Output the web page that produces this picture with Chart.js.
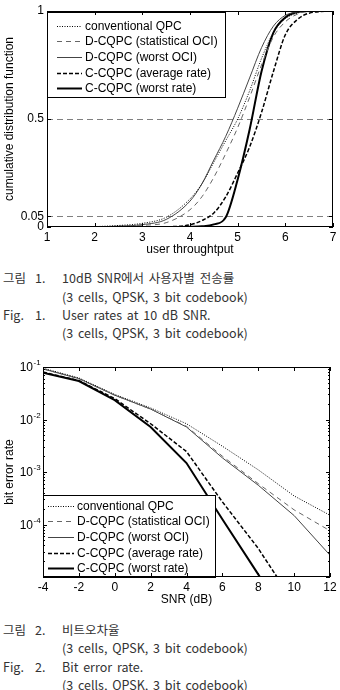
<!DOCTYPE html>
<html>
<head>
<meta charset="utf-8">
<script src="https://cdn.jsdelivr.net/npm/chart.js@4/dist/chart.umd.min.js"></script>
<style>
  body { margin: 0; width: 340px; height: 690px; background: #fff; position: relative; overflow: hidden; }
  canvas { position: absolute; left: 0; }
  .cap { position: absolute; font-family: "Noto Sans CJK KR", "Liberation Sans", sans-serif; font-size: 12.5px;
         line-height: 18px; color: #333; white-space: nowrap; word-spacing: 2px; }
</style>
</head>
<body>
<canvas id="cdf" width="340" height="260" style="top:0"></canvas>
<canvas id="ber" width="340" height="255" style="top:355px"></canvas>

<div class="cap" style="left:3px;top:269px">그림</div><div class="cap" style="left:35px;top:269px">1.</div>
<div class="cap" style="left:62px;top:269px">10dB SNR에서 사용자별 전송률</div>
<div class="cap" style="left:62px;top:288px">(3 cells, QPSK, 3 bit codebook)</div>
<div class="cap" style="left:3px;top:306px">Fig.</div><div class="cap" style="left:35px;top:306px">1.</div>
<div class="cap" style="left:62px;top:306px">User rates at 10 dB SNR.</div>
<div class="cap" style="left:62px;top:324px">(3 cells, QPSK, 3 bit codebook)</div>

<div class="cap" style="left:3px;top:621px">그림</div><div class="cap" style="left:35px;top:621px">2.</div>
<div class="cap" style="left:62px;top:621px">비트오차율</div>
<div class="cap" style="left:62px;top:639px">(3 cells, QPSK, 3 bit codebook)</div>
<div class="cap" style="left:3px;top:658px">Fig.</div><div class="cap" style="left:35px;top:658px">2.</div>
<div class="cap" style="left:62px;top:658px">Bit error rate.</div>
<div class="cap" style="left:62px;top:676px">(3 cells, QPSK, 3 bit codebook)</div>

<script>
// ---- data: figure 1, CDF of user throughput ----
var seriesNames = ["conventional QPC", "D-CQPC (statistical OCI)", "D-CQPC (worst OCI)",
                   "C-CQPC (average rate)", "C-CQPC (worst rate)"];
var thrX     = [1, 2, 2.5, 3, 3.5, 4, 4.25, 4.5, 4.75, 5, 5.25, 5.5, 5.75, 6, 6.25, 6.5, 7];
var cdfConv  = [0, 0.002, 0.007, 0.017, 0.045, 0.13, 0.2, 0.3, 0.4, 0.5, 0.63, 0.78, 0.9, 0.965, 0.99, 1, 1];
var cdfStat  = [0, 0.001, 0.003, 0.008, 0.02, 0.08, 0.14, 0.23, 0.34, 0.46, 0.6, 0.75, 0.88, 0.95, 0.985, 0.998, 1];
var cdfWOci  = [0, 0.001, 0.004, 0.011, 0.035, 0.12, 0.2, 0.31, 0.42, 0.55, 0.69, 0.83, 0.93, 0.98, 0.995, 1, 1];
var cdfAvg   = [0, 0, 0, 0, 0.001, 0.01, 0.03, 0.065, 0.14, 0.25, 0.37, 0.53, 0.72, 0.89, 0.96, 0.99, 1];
var cdfWRate = [0, 0, 0, 0, 0, 0.001, 0.003, 0.012, 0.045, 0.22, 0.45, 0.72, 0.9, 0.97, 0.995, 1, 1];
var cdfTicks = [0, 0.05, 0.5, 1];

// ---- data: figure 2, bit error rate vs SNR ----
var snrX     = [-4, -2, 0, 2, 4, 6, 8, 10, 12];
var berConv  = [0.095, 0.062, 0.030, 0.0166, 0.0083, 0.0031, 0.0011, 0.00035, 0.00015];
var berStat  = [0.092, 0.060, 0.029, 0.0158, 0.0074, 0.0020, 0.00060, 0.00019, 0.000076];
var berWOci  = [0.092, 0.060, 0.029, 0.0158, 0.0072, 0.00186, 0.00056, 0.000148, 0.000026];
var berAvg   = [0.080, 0.055, 0.025, 0.0083, 0.00245, 0.00027, 0.000035, 0.0000032, 0.0000003];
var berWRate = [0.078, 0.054, 0.0234, 0.0072, 0.00148, 0.000126, 0.0000112, 0.000001, 0.0000001];
var berTicks = [1e-1, 1e-2, 1e-3, 1e-4, 1e-5];
var berTickExp = ["-1", "-2", "-3", "-4", ""];

var FONT = '"Liberation Sans", Arial, sans-serif';

function pts(xs, ys) {
  return xs.map(function (x, i) { return { x: x, y: ys[i] }; });
}

// line styles shared by both figures
var styles = [
  { borderColor: "#000", borderWidth: 1, borderDash: [1, 1.5] },
  { borderColor: "#666", borderWidth: 1, borderDash: [5, 4] },
  { borderColor: "#444", borderWidth: 1, borderDash: [] },
  { borderColor: "#000", borderWidth: 1.5, borderDash: [4, 2] },
  { borderColor: "#000", borderWidth: 2, borderDash: [] }
];

function makeSets(xs, arrays, smooth) {
  return arrays.map(function (arr, i) {
    return {
      label: seriesNames[i],
      data: pts(xs, arr),
      borderColor: styles[i].borderColor,
      borderWidth: styles[i].borderWidth,
      borderDash: styles[i].borderDash,
      pointRadius: 0,
      fill: false,
      cubicInterpolationMode: smooth ? "monotone" : "default",
      tension: 0
    };
  });
}

// frame, inward ticks, legend box
var framePlugin = {
  id: "frame",
  afterDraw: function (chart, args, opts) {
    var ctx = chart.ctx, a = chart.chartArea;
    var xs = chart.scales.x, ys = chart.scales.y;
    ctx.save();

    var L = opts.legend;
    ctx.fillStyle = "#fff";
    ctx.fillRect(L.x0, L.y0, L.x1 - L.x0, L.y1 - L.y0);
    ctx.strokeStyle = "#000";
    ctx.lineWidth = 1;
    ctx.setLineDash([]);
    ctx.strokeRect(L.x0 + 0.5, L.y0 + 0.5, L.x1 - L.x0, L.y1 - L.y0);
    chart.data.datasets.forEach(function (ds, i) {
      var y = Math.round(L.first + i * L.step) + 0.5;
      ctx.beginPath();
      ctx.setLineDash(ds.borderDash || []);
      ctx.strokeStyle = ds.borderColor;
      ctx.lineWidth = ds.borderWidth;
      ctx.moveTo(L.lx0, y);
      ctx.lineTo(L.lx1, y);
      ctx.stroke();
      ctx.setLineDash([]);
      ctx.fillStyle = "#000";
      ctx.font = "12px " + FONT;
      ctx.textAlign = "left";
      ctx.textBaseline = "middle";
      ctx.fillText(ds.label, L.tx, y);
    });

    ctx.strokeStyle = "#000";
    ctx.lineWidth = 1;
    ctx.setLineDash([]);
    ctx.strokeRect(a.left + 0.5, a.top + 0.5, a.right - a.left - 1, a.bottom - a.top - 1);

    ctx.beginPath();
    xs.ticks.forEach(function (t) {
      var px = Math.round(xs.getPixelForValue(t.value)) + 0.5;
      ctx.moveTo(px, a.bottom); ctx.lineTo(px, a.bottom - 4);
      ctx.moveTo(px, a.top); ctx.lineTo(px, a.top + 4);
    });
    opts.yMajor.forEach(function (v) {
      var py = Math.round(ys.getPixelForValue(v)) + 0.5;
      ctx.moveTo(a.left, py); ctx.lineTo(a.left + 4, py);
      ctx.moveTo(a.right, py); ctx.lineTo(a.right - 4, py);
    });
    (opts.yMinor || []).forEach(function (v) {
      var py = Math.round(ys.getPixelForValue(v)) + 0.5;
      ctx.moveTo(a.left, py); ctx.lineTo(a.left + 2, py);
      ctx.moveTo(a.right, py); ctx.lineTo(a.right - 2, py);
    });
    ctx.stroke();

    // log axis labels 10^n
    if (opts.expLabels) {
      ctx.fillStyle = "#000";
      opts.yMajor.forEach(function (v, i) {
        var e = opts.expLabels[i];
        if (!e) return;
        var py = ys.getPixelForValue(v);
        ctx.font = "12px " + FONT;
        ctx.textAlign = "right";
        ctx.textBaseline = "middle";
        ctx.fillText("10", 33, py + 1);
        ctx.font = "8px " + FONT;
        ctx.textAlign = "left";
        ctx.fillText(e, 33.5, py - 4);
      });
    }
    ctx.restore();
  }
};

Chart.defaults.font.family = FONT;
Chart.defaults.font.size = 12;
Chart.defaults.color = "#000";

new Chart(document.getElementById("cdf"), {
  type: "line",
  data: { datasets: makeSets(thrX, [cdfConv, cdfStat, cdfWOci, cdfAvg, cdfWRate], true) },
  options: {
    responsive: false,
    animation: false,
    devicePixelRatio: 1,
    layout: { padding: { top: 11, right: 7, left: 0, bottom: 0 } },
    plugins: {
      legend: { display: false },
      tooltip: { enabled: false },
      frame: {
        yMajor: cdfTicks,
        legend: { x0: 47, y0: 12, x1: 225, y1: 97, first: 25.5, step: 15.7, lx0: 57, lx1: 82, tx: 85 }
      }
    },
    scales: {
      x: {
        type: "linear", min: 1, max: 7,
        ticks: { stepSize: 1, padding: 3 },
        grid: { display: false, drawTicks: false },
        border: { display: false },
        title: { display: true, text: "user throughtput", padding: { top: 0, bottom: 3 } },
        afterFit: function (s) { s.height = 33; }
      },
      y: {
        min: 0, max: 1,
        afterBuildTicks: function (s) { s.ticks = cdfTicks.map(function (v) { return { value: v }; }); },
        ticks: { padding: 3, callback: function (v) { return String(v); } },
        grid: {
          drawTicks: false,
          color: function (c) { return c.tick && c.tick.value === 0 ? "rgba(0,0,0,0)" : "#808080"; }
        },
        border: { display: false, dash: [6, 4] },
        title: { display: true, text: "cumulative distribution function", padding: { top: 2, bottom: 0 } },
        afterFit: function (s) { s.width = 47; }
      }
    }
  },
  plugins: [framePlugin]
});

var berMinor = [];
[1e-5, 1e-4, 1e-3, 1e-2].forEach(function (d) {
  for (var m = 2; m <= 9; m++) berMinor.push(m * d);
});

new Chart(document.getElementById("ber"), {
  type: "line",
  data: { datasets: makeSets(snrX, [berConv, berStat, berWOci, berAvg, berWRate], false) },
  options: {
    responsive: false,
    animation: false,
    devicePixelRatio: 1,
    layout: { padding: { top: 12, right: 10, left: 0, bottom: 0 } },
    plugins: {
      legend: { display: false },
      tooltip: { enabled: false },
      frame: {
        yMajor: berTicks,
        yMinor: berMinor,
        expLabels: berTickExp,
        legend: { x0: 43, y0: 140, x1: 215, y1: 222, first: 150.5, step: 15.7, lx0: 48, lx1: 74, tx: 77 }
      }
    },
    scales: {
      x: {
        type: "linear", min: -4, max: 12,
        ticks: { stepSize: 2, padding: 3 },
        grid: { display: false, drawTicks: false },
        border: { display: false },
        title: { display: true, text: "SNR (dB)", padding: { top: 0, bottom: 3 } },
        afterFit: function (s) { s.height = 33; }
      },
      y: {
        type: "logarithmic", min: 1e-5, max: 1e-1,
        ticks: { display: false },
        grid: { display: false, drawTicks: false },
        border: { display: false },
        title: { display: true, text: "bit error rate", padding: { top: 2, bottom: 0 } },
        afterFit: function (s) { s.width = 43; }
      }
    }
  },
  plugins: [framePlugin]
});
</script>
</body>
</html>
